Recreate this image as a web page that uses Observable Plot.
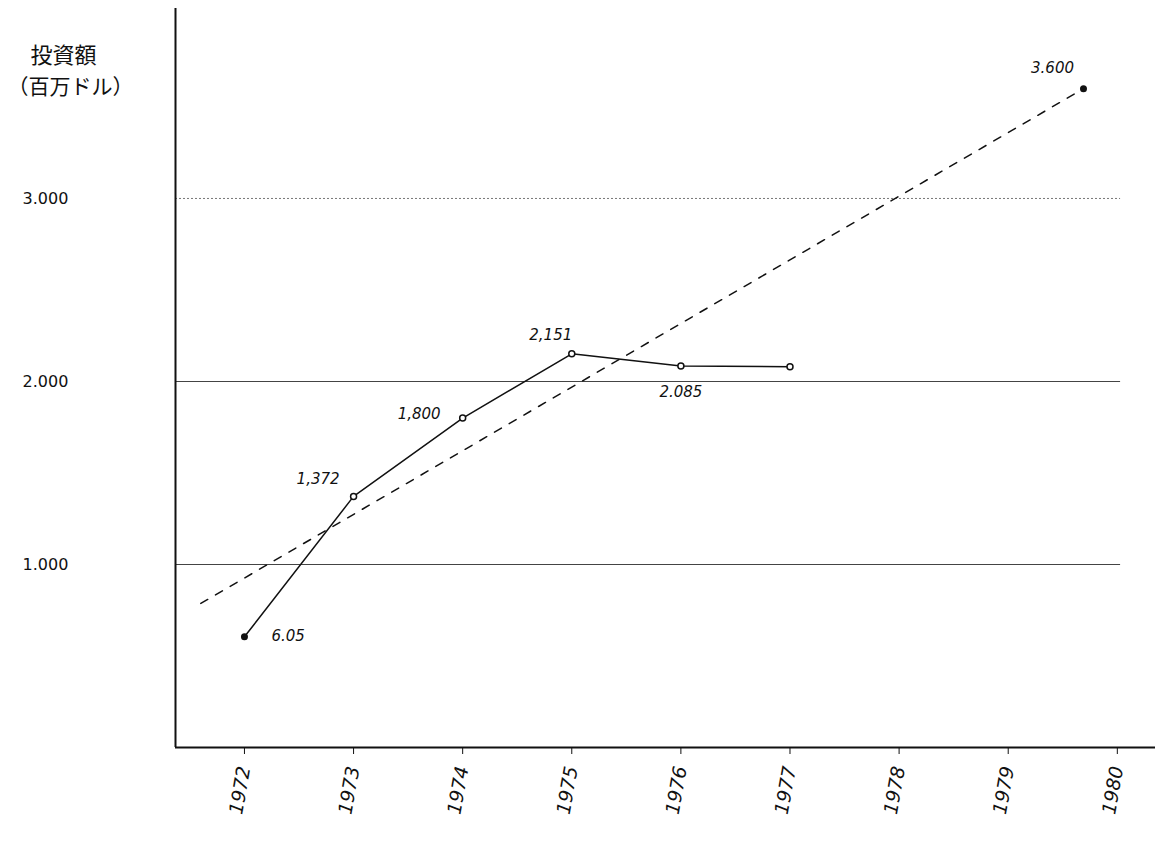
<!DOCTYPE html>
<html><head><meta charset="utf-8">
<script src="https://cdn.jsdelivr.net/npm/d3@7"></script>
<script src="https://cdn.jsdelivr.net/npm/@observablehq/plot@0.6"></script>
<style>body{margin:0;background:#fff;}</style>
</head><body><div id="chart"></div>
<script>
// Data
const years = [1972, 1973, 1974, 1975, 1976, 1977];
const investment = [605, 1372, 1800, 2151, 2085, 2080];
const pointLabels = ["6.05", "1,372", "1,800", "2,151", "2.085", ""];
const targetYears = [1979.69];
const targetValues = [3600];
const targetLabels = ["3.600"];
const trendYears = [1971.6, 1979.69];
const trendValues = [787, 3600];
const xTicks = [1972, 1973, 1974, 1975, 1976, 1977, 1978, 1979, 1980];
const xTickLabels = ["1972", "1973", "1974", "1975", "1976", "1977", "1978", "1979", "1980"];
const yTicks = [1000, 2000, 3000];
const yTickLabels = ["1.000", "2.000", "3.000"];
const yTitle = ["投資額", "（百万ドル）"];

const xMin = 1971.368, xMax = 1980.35, gridEnd = 1980.03, yMax = 4038;

const actual = years.map((y, i) => ({year: y, value: investment[i], label: pointLabels[i]}));
const target = targetYears.map((y, i) => ({year: y, value: targetValues[i], label: targetLabels[i]}));
const trend = trendYears.map((y, i) => ({year: y, value: trendValues[i]}));
const grid = yTicks.map(v => ({value: v, x1: xMin, x2: gridEnd}));

const labelFont = {fontSize: 15, fontStyle: "italic", fill: "#111"};
const lab = (i, opts) => Plot.text([actual[i]], {x: "year", y: "value", text: "label", ...labelFont, ...opts});

const chart = Plot.plot({
  width: 1155, height: 844,
  marginLeft: 175, marginRight: 0, marginTop: 8, marginBottom: 97,
  x: {domain: [xMin, xMax], label: null},
  y: {domain: [0, yMax], label: null},
  style: {fontFamily: "DejaVu Sans", fontSize: "15px", color: "#111", background: "#fff"},
  marks: [
    Plot.ruleY(grid.filter(d => d.value !== 3000), {y: "value", x1: "x1", x2: "x2", stroke: "#444", strokeWidth: 1.2}),
    Plot.ruleY(grid.filter(d => d.value === 3000), {y: "value", x1: "x1", x2: "x2", stroke: "#777", strokeWidth: 1, strokeDasharray: "2,2"}),
    Plot.ruleX([xMin], {y1: 0, y2: yMax, stroke: "#111", strokeWidth: 2}),
    Plot.ruleY([0], {x1: xMin, x2: xMax, stroke: "#111", strokeWidth: 2}),
    Plot.axisX(xTicks, {tickSize: 7, tickRotate: -80, tickPadding: 12, fontSize: 19, fontStyle: "italic", label: null,
      tickFormat: d => xTickLabels[xTicks.indexOf(d)]}),
    Plot.axisY(yTicks, {tickSize: 0, tickPadding: 3, textAnchor: "start", dx: -150, fontSize: 16, label: null,
      tickFormat: d => yTickLabels[yTicks.indexOf(d)]}),
    Plot.line(trend, {x: "year", y: "value", stroke: "#111", strokeWidth: 1.5, strokeDasharray: "8,9"}),
    Plot.line(actual, {x: "year", y: "value", stroke: "#111", strokeWidth: 1.5}),
    Plot.dot(actual.filter((d, i) => i > 0), {x: "year", y: "value", r: 3, fill: "#fff", stroke: "#111", strokeWidth: 1.5}),
    Plot.dot(actual.filter((d, i) => i === 0), {x: "year", y: "value", r: 3.5, fill: "#111"}),
    Plot.dot(target, {x: "year", y: "value", r: 3.5, fill: "#111"}),
    lab(0, {textAnchor: "start", dx: 27, dy: -1}),
    lab(1, {textAnchor: "end", dx: -14, dy: -17}),
    lab(2, {textAnchor: "end", dx: -22, dy: -4}),
    lab(3, {textAnchor: "middle", dx: -21, dy: -19}),
    lab(4, {textAnchor: "middle", dx: 0, dy: 26}),
    Plot.text(target, {x: "year", y: "value", text: "label", ...labelFont, textAnchor: "middle", dx: -31, dy: -20}),
    Plot.text([yTitle[0]], {frameAnchor: "top-left", textAnchor: "start", dx: -145, dy: 39, fontSize: 22,
      fontFamily: "Noto Sans CJK JP", fill: "#111"}),
    Plot.text([yTitle[1]], {frameAnchor: "top-left", textAnchor: "start", dx: -168, dy: 71, fontSize: 21,
      fontFamily: "Noto Sans CJK JP", fill: "#111"})
  ]
});
document.getElementById("chart").append(chart);
</script>
</body></html>
